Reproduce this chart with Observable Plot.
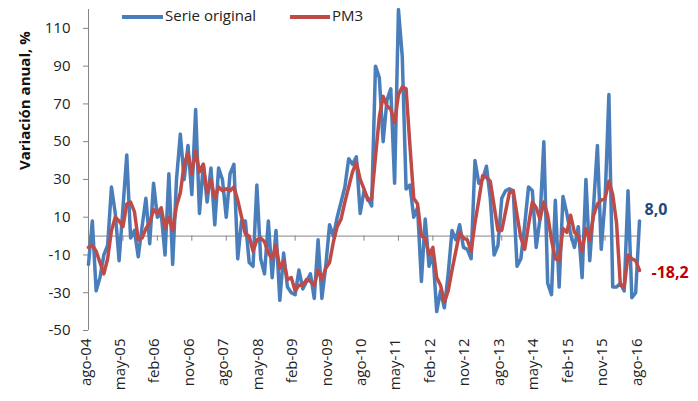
<!DOCTYPE html>
<html>
<head>
<meta charset="utf-8">
<script src="https://cdn.jsdelivr.net/npm/d3@7"></script>
<script src="https://cdn.jsdelivr.net/npm/@observablehq/plot@0.6"></script>
<style>
  html, body { margin: 0; padding: 0; background: #fff; }
  #wrap { position: relative; width: 698px; height: 401px; font-family: "Open Sans", sans-serif; }
  #legend { position: absolute; left: 0; top: 0; width: 698px; height: 30px; pointer-events: none; }
  .lg-line { position: absolute; height: 4px; top: 15px; }
  .lg-text { position: absolute; top: 5px; font-size: 15px; color: #222; line-height: 20px; }
</style>
</head>
<body>
<div id="wrap">
  <div id="chart"></div>
  <div id="legend">
    <div class="lg-line" style="left:122px;width:41px;background:#4A7EBB"></div>
    <div class="lg-text" style="left:165px">Serie original</div>
    <div class="lg-line" style="left:290px;width:40px;background:#BE4B48"></div>
    <div class="lg-text" style="left:332px">PM3</div>
  </div>
</div>
<script>
// Monthly, Aug 2004 (index 0) to Aug 2016 (index 144)
const serieOriginal = [
  -15, 8, -29, -22, -10, -5, 26, 12, -13, 15,
  43, -1, 3, -11, 5, 20, -4, 28, 10, 12,
  -10, 33, -15, 30, 54, 30, 48, 22, 67, 12,
  38, 18, 36, 6, 36, 30, 10, 33, 38, -12,
  8, 8, -14, -16, 27, -12, -20, 8, -22, 3,
  -34, -9, -27, -30, -31, -18, -28, -24, -20, -33,
  -2, -33, -16, 6, 0, 10, 18, 26, 41, 38,
  42, 12, 24, 20, 16, 90, 84, 50, 72, 78,
  28, 120, 95, 25, 27, 10, 15, -24, 9, -16,
  -9, -40, -29, -38, -20, 3, -2, 6, -6, -7,
  -12, 40, 28, 30, 37, 20, -10, -5, 20, 24,
  25, 24, -16, -12, 6, 26, 24, -6, 9, 50,
  -25, -31, 19, -27, 21, 12, 1, -6, 5, -22,
  30, -13, 16, 48, -7, 19, 75, -27, -27, -25,
  -29, 24, -32.6, -30, 8.0
];
const pm3 = [
  -6, -5, -8, -14, -20, -12, 3, 10, 8, 5,
  17, 18, 13, -2, -1, 4, 7, 14, 12, 15,
  4, 10, 3, 16, 23, 38, 44, 33, 45, 34,
  38, 23, 30, 20, 26, 24, 25, 24, 26, 19,
  10, 1, 0, -8, -2, -1, -3, -9, -12, -5,
  -17, -13, -23, -22, -29, -26, -26, -23, -24, -26,
  -18, -23, -17, -14, -3, 5, 9, 18, 26, 34,
  39, 30, 25, 19, 20, 42, 63, 74, 69, 67,
  60, 75, 79, 78, 48, 20, 17, 0, -1, -10,
  -6, -22, -26, -35, -29, -18, -8, 2, -1, -2,
  -8, 7, 19, 32, 31, 29, 16, 3, 3, 13,
  23, 24, 11, -1, -7, 6, 18, 15, 9, 18,
  11, -2, -12, -13, 4, 2, 11, 2, 0, -8,
  4, -2, 11, 17, 19, 20, 29, 22, 7, -26,
  -27, -10, -12, -13, -18.2
];
const tickLabels = ["ago-04","may-05","feb-06","nov-06","ago-07","may-08","feb-09","nov-09",
  "ago-10","may-11","feb-12","nov-12","ago-13","may-14","feb-15","nov-15","ago-16"];
const yTicks = [-50, -30, -10, 10, 30, 50, 70, 90, 110];
const lastOriginalLabel = "8,0";
const lastPm3Label = "-18,2";

const tickIdx = tickLabels.map((_, k) => k * 9);
const lastIdx = serieOriginal.length - 1;
const axisColor = "#868686";
const fontFam = "Open Sans, sans-serif";

const chart = Plot.plot({
  width: 698,
  height: 401,
  marginLeft: 88,
  marginRight: 59,
  marginTop: 9,
  marginBottom: 71,
  style: { fontFamily: fontFam, background: "white" },
  x: { type: "linear", domain: [0, 144], axis: null },
  y: { domain: [-50, 120], axis: null },
  marks: [
    // y axis line and ticks
    Plot.ruleX([0], { y1: -50, y2: 120, stroke: axisColor, strokeWidth: 1 }),
    Plot.axisY({ ticks: yTicks, tickSize: 5, tickPadding: 13, stroke: axisColor, fontSize: 15, fill: "#222", tickFormat: d => String(d) }),
    // zero line with month ticks
    Plot.ruleY([0], { x1: 0, x2: 144, stroke: axisColor, strokeWidth: 1 }),
    Plot.ruleX(tickIdx, { x: d => d, y1: 0, y2: -2.7, stroke: axisColor, strokeWidth: 1 }),
    // x tick labels at the bottom
    Plot.text(tickIdx, {
      x: d => d, frameAnchor: "bottom", rotate: -90, textAnchor: "end",
      dy: 8, dx: 2, text: (d, k) => tickLabels[k], fontSize: 15, fill: "#222"
    }),
    // y title
    Plot.text(["Variación anual, %"], {
      frameAnchor: "left", dx: -63, rotate: -90, fontWeight: "bold", fontSize: 15, fill: "#111"
    }),
    // series
    Plot.line(serieOriginal, { x: (d, i) => i, y: d => d, stroke: "#4A7EBB", strokeWidth: 3.5, strokeLinejoin: "round" }),
    Plot.line(pm3, { x: (d, i) => i, y: d => d, stroke: "#BE4B48", strokeWidth: 3.5, strokeLinejoin: "round" }),
    // end labels
    Plot.text([serieOriginal[lastIdx]], {
      x: () => lastIdx, y: d => d, text: () => lastOriginalLabel, textAnchor: "start",
      dx: 5, dy: -11, fontWeight: "bold", fontSize: 16, fill: "#1F497D"
    }),
    Plot.text([pm3[lastIdx]], {
      x: () => lastIdx, y: d => d, text: () => lastPm3Label, textAnchor: "start",
      dx: 12, dy: 2, fontWeight: "bold", fontSize: 16, fill: "#C00000"
    })
  ]
});
document.getElementById("chart").appendChild(chart);
</script>
</body>
</html>
